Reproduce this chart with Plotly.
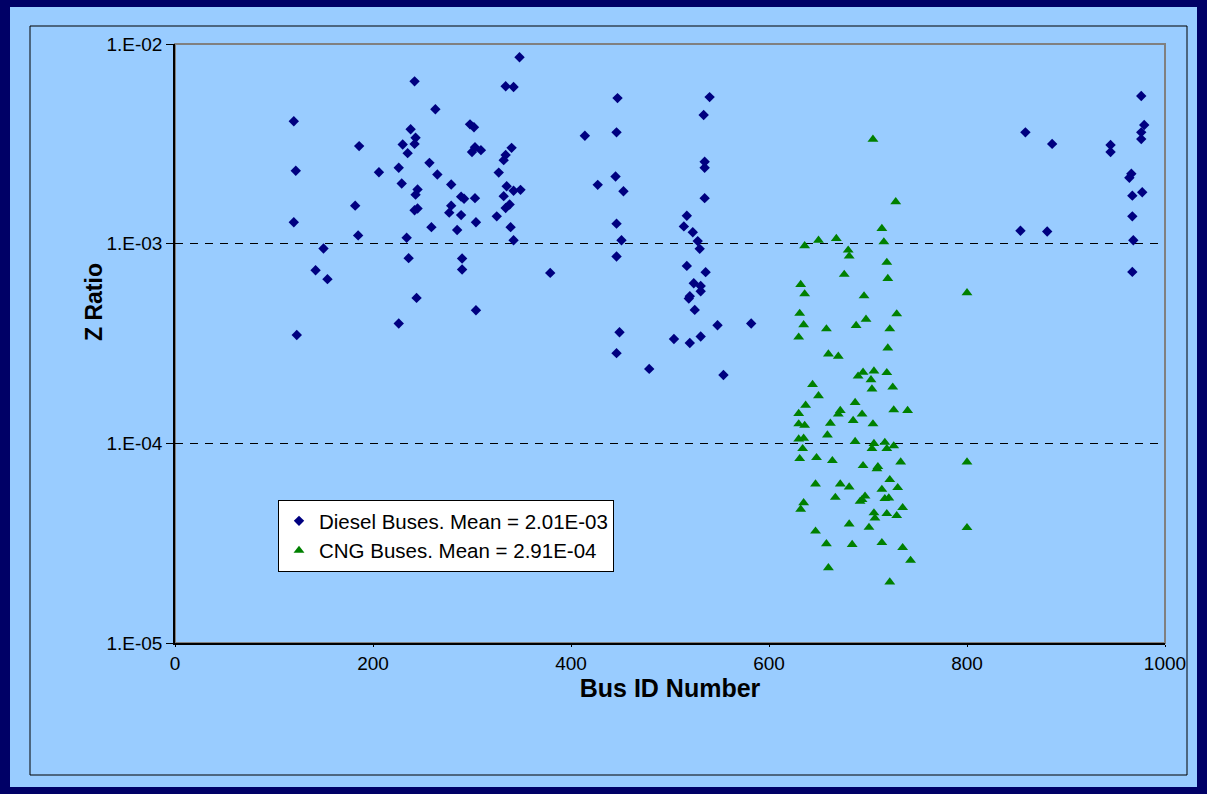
import plotly.graph_objects as go

# Diesel buses: bus ID and measured Z ratio
diesel_id = [
    120, 122, 120, 123, 150, 142, 154, 186, 206, 182, 185, 242, 263, 238, 243, 230,
    242, 235, 226, 257, 265, 229, 245, 243, 245, 242, 259, 234, 236, 244, 226,
    348, 334, 342, 298, 302, 414, 303, 300, 309, 340, 334, 332, 327, 279, 289,
    292, 303, 335, 342, 349, 332, 338, 334, 279, 277, 289, 325, 304, 285, 339,
    342, 427, 290, 290, 379, 304,
    446, 447, 535, 535, 534, 540, 445, 453, 535, 517, 514, 446, 523, 451, 528,
    530, 446, 517, 536, 524, 531, 531, 520, 519, 525, 548, 582, 449, 504, 520,
    531, 446, 479, 554,
    976, 979, 976, 976, 859, 886, 945, 945, 966, 964, 967, 977, 967, 968, 967,
    854, 881,
]
diesel_z = [
    4.10e-3, 2.32e-3, 1.28e-3, 3.49e-4, 9.46e-4, 7.36e-4, 6.64e-4, 3.08e-3,
    2.28e-3, 1.55e-3, 1.10e-3, 6.50e-3, 4.71e-3, 3.74e-3, 3.39e-3, 3.14e-3,
    3.16e-3, 2.84e-3, 2.40e-3, 2.54e-3, 2.22e-3, 2.00e-3, 1.87e-3, 1.76e-3,
    1.50e-3, 1.47e-3, 1.21e-3, 1.07e-3, 8.46e-4, 5.35e-4, 3.98e-4,
    8.58e-3, 6.14e-3, 6.09e-3, 3.96e-3, 3.83e-3, 3.47e-3, 3.04e-3, 2.88e-3,
    2.94e-3, 3.02e-3, 2.78e-3, 2.62e-3, 2.27e-3, 1.98e-3, 1.72e-3, 1.68e-3,
    1.69e-3, 1.94e-3, 1.84e-3, 1.86e-3, 1.73e-3, 1.57e-3, 1.51e-3, 1.55e-3,
    1.43e-3, 1.39e-3, 1.37e-3, 1.28e-3, 1.17e-3, 1.21e-3, 1.04e-3, 1.97e-3,
    8.43e-4, 7.43e-4, 7.14e-4, 4.64e-4,
    3.61e-3, 5.36e-3, 2.57e-3, 2.40e-3, 4.41e-3, 5.42e-3, 2.17e-3, 1.83e-3,
    1.69e-3, 1.38e-3, 1.22e-3, 1.26e-3, 1.14e-3, 1.04e-3, 1.03e-3, 9.42e-4,
    8.63e-4, 7.74e-4, 7.20e-4, 6.34e-4, 6.14e-4, 5.78e-4, 5.46e-4, 5.31e-4,
    4.66e-4, 3.90e-4, 3.98e-4, 3.60e-4, 3.33e-4, 3.18e-4, 3.43e-4, 2.83e-4,
    2.36e-4, 2.20e-4,
    5.49e-3, 3.93e-3, 3.61e-3, 3.34e-3, 3.61e-3, 3.16e-3, 3.12e-3, 2.88e-3,
    2.24e-3, 2.14e-3, 1.74e-3, 1.81e-3, 1.37e-3, 1.04e-3, 7.22e-4, 1.16e-3,
    1.15e-3,
]

# CNG buses: bus ID and measured Z ratio
cng_id = [
    705, 728, 714, 716, 680, 681, 719, 676, 720, 696, 800, 800, 800, 636, 650,
    668, 632, 636, 631, 635, 630, 658, 688, 698, 729, 722, 720, 660, 670, 644,
    650, 637, 630, 690, 695, 706, 719, 703, 704, 725, 687, 672, 670, 726, 740,
    694, 685, 705, 662, 630, 636, 659, 630, 635, 634, 631, 648, 664, 687, 706,
    704, 717, 719, 726, 695, 710, 709, 733, 647, 672, 681, 667, 722, 714, 730,
    697, 692, 694, 717, 721, 635, 632, 706, 707, 719, 729, 735, 681, 701, 647,
    658, 684, 714, 735, 743, 660, 722,
]
cng_z = [
    3.33e-3, 1.62e-3, 1.19e-3, 1.02e-3, 9.28e-4, 8.66e-4, 8.05e-4, 7.01e-4,
    6.69e-4, 5.47e-4, 5.67e-4, 8.06e-5, 3.78e-5, 9.75e-4, 1.04e-3, 1.06e-3,
    6.24e-4, 5.60e-4, 4.47e-4, 3.92e-4, 3.40e-4, 3.74e-4, 3.89e-4, 4.18e-4,
    4.45e-4, 3.74e-4, 3.00e-4, 2.80e-4, 2.73e-4, 1.97e-4, 1.73e-4, 1.55e-4,
    1.41e-4, 2.17e-4, 2.27e-4, 2.30e-4, 2.26e-4, 2.08e-4, 1.87e-4, 1.91e-4,
    1.60e-4, 1.46e-4, 1.40e-4, 1.47e-4, 1.46e-4, 1.40e-4, 1.30e-4, 1.25e-4,
    1.26e-4, 1.25e-4, 1.23e-4, 1.10e-4, 1.05e-4, 1.06e-4, 9.40e-5, 8.38e-5,
    8.48e-5, 8.19e-5, 1.02e-4, 9.97e-5, 9.40e-5, 1.01e-4, 9.40e-5, 9.70e-5,
    7.73e-5, 7.64e-5, 7.45e-5, 8.06e-5, 6.25e-5, 6.25e-5, 6.04e-5, 5.36e-5,
    6.58e-5, 5.88e-5, 6.00e-5, 5.44e-5, 5.12e-5, 5.22e-5, 5.28e-5, 5.32e-5,
    5.04e-5, 4.67e-5, 4.48e-5, 4.22e-5, 4.44e-5, 4.34e-5, 4.76e-5, 3.94e-5,
    3.79e-5, 3.63e-5, 3.14e-5, 3.11e-5, 3.18e-5, 3.00e-5, 2.59e-5, 2.38e-5,
    2.02e-5,
]

diesel_name = "Diesel Buses. Mean = 2.01E-03"
cng_name = "CNG Buses. Mean = 2.91E-04"
y_title = "<b>Z Ratio</b>"
x_title = "<b>Bus ID Number</b>"

y_tickvals = [1e-5, 1e-4, 1e-3, 1e-2]
y_ticktext = ["1.E-05", "1.E-04", "1.E-03", "1.E-02"]
x_tickvals = [0, 200, 400, 600, 800, 1000]

NAVY = "#000080"
GREEN = "#008000"
PANEL = "#99CCFF"
FRAME = "#000066"

fig = go.Figure()
fig.add_trace(go.Scatter(
    x=diesel_id, y=diesel_z, mode="markers", name=diesel_name,
    marker=dict(symbol="diamond", size=8, color=NAVY, line=dict(width=0)),
))
fig.add_trace(go.Scatter(
    x=cng_id, y=cng_z, mode="markers", name=cng_name,
    marker=dict(symbol="triangle-up", size=9.5, color=GREEN, line=dict(width=0)),
))

# plot-area geometry in pixels (used to place the framing rectangles)
W, H = 1207, 794
L, R, T, B = 175, 42, 44, 151
pw, ph = W - L - R, H - T - B


def px_x(p):
    return (p - L) / pw


def px_y(p):
    return (H - B - p) / ph


shapes = [
    # light-blue panel inside the dark outer frame
    dict(type="rect", xref="paper", yref="paper", layer="below",
         x0=px_x(10), x1=px_x(1197), y0=px_y(787), y1=px_y(7),
         fillcolor=PANEL, line=dict(width=0)),
    # thin black chart-area border
    dict(type="rect", xref="paper", yref="paper", layer="below",
         x0=px_x(30), x1=px_x(1187), y0=px_y(775), y1=px_y(26),
         fillcolor="rgba(0,0,0,0)", line=dict(color="black", width=1)),
    # grey plot-area outline
    dict(type="rect", xref="paper", yref="paper", layer="below",
         x0=0, x1=1, y0=0, y1=1,
         fillcolor="rgba(0,0,0,0)", line=dict(color="#808080", width=2)),
]

font_family = "Liberation Sans, Arial, sans-serif"

fig.update_layout(
    width=W, height=H,
    margin=dict(l=L, r=R, t=T, b=B),
    paper_bgcolor=FRAME,
    plot_bgcolor="rgba(0,0,0,0)",
    font=dict(family=font_family, size=19, color="black"),
    shapes=shapes,
    showlegend=True,
    legend=dict(
        x=px_x(278), y=px_y(500), xanchor="left", yanchor="top",
        bgcolor="white", bordercolor="black", borderwidth=1,
        font=dict(family=font_family, size=20.5, color="black"),
        itemwidth=30, tracegroupgap=0,
    ),
    annotations=[
        dict(text=y_title, textangle=-90, xref="paper", yref="paper",
             x=px_x(94), y=px_y(302), xanchor="center", yanchor="middle",
             showarrow=False, font=dict(family=font_family, size=23, color="black")),
    ],
    xaxis=dict(
        range=[0, 1000], tickvals=x_tickvals,
        showgrid=False, zeroline=False,
        showline=True, linecolor="black", linewidth=1.5,
        ticks="outside", ticklen=2, tickcolor="black",
        tickfont=dict(size=19),
        title=dict(text=x_title, font=dict(size=25), standoff=7),
    ),
    yaxis=dict(
        type="log", range=[-5, -2],
        tickvals=y_tickvals, ticktext=y_ticktext,
        showgrid=True, gridcolor="black", gridwidth=1, griddash="8px,7px",
        zeroline=False,
        showline=True, linecolor="black", linewidth=1.5,
        ticks="outside", ticklen=7, tickcolor="black",
        tickfont=dict(size=19),
    ),
)

fig.write_html("out.html")
